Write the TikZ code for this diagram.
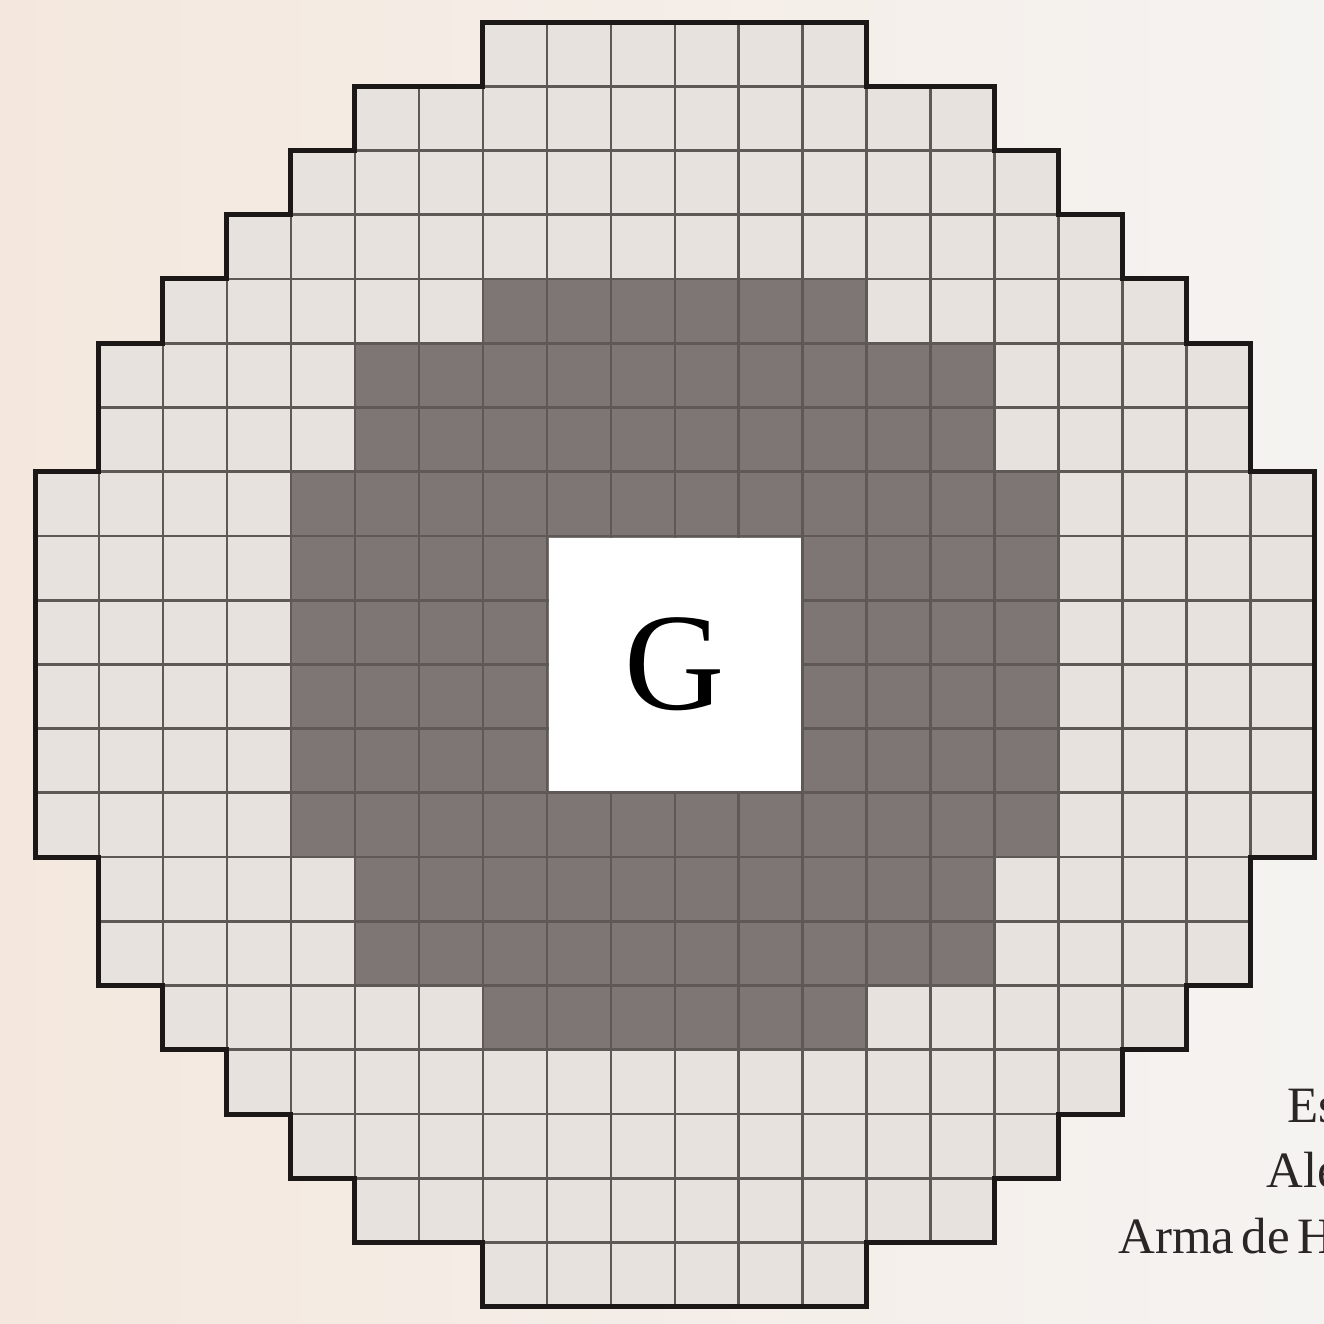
\documentclass[tikz,border=0pt]{standalone}
\usepackage{fontspec}
\setmainfont{Liberation Serif}
\definecolor{paperL}{HTML}{F4E8DE}
\definecolor{paperR}{HTML}{F5F3F1}
\definecolor{lightcell}{HTML}{E8E2DE}
\definecolor{darkcell}{HTML}{7E7674}
\definecolor{gridcol}{HTML}{5E5856}
\definecolor{outlinecol}{HTML}{1C1818}
\definecolor{textcol}{HTML}{2A2626}
\tikzset{
  gridline/.style={draw=gridcol, line width=0.055cm},
  outlinestyle/.style={draw=outlinecol, line width=0.1cm, line join=miter},
  caption/.style={anchor=base west, inner sep=0pt, text=textcol,
    font=\fontsize{29}{29}\selectfont},
  bigletter/.style={inner sep=0pt, text=black, font=\fontsize{79}{79}\selectfont}
}
\begin{document}
\begin{tikzpicture}[x=0.02cm, y=-0.02cm]
\useasboundingbox (0,0) rectangle (1324,1323);
\clip (0,0) rectangle (1324,1323);
\shade[left color=paperL, right color=paperR] (0,0) rectangle (1324,1323);
\begin{scope}[shift={(35,22)}, x=1.28cm, y=-1.285cm]
  \def\outlinepath{(7,0) -- (13,0) -- (13,1) -- (15,1) -- (15,2) -- (16,2) -- (16,3) -- (17,3) -- (17,4) -- (18,4) -- (18,5) -- (19,5) -- (19,7) -- (20,7) -- (20,13) -- (19,13) -- (19,15) -- (18,15) -- (18,16) -- (17,16) -- (17,17) -- (16,17) -- (16,18) -- (15,18) -- (15,19) -- (13,19) -- (13,20) -- (7,20) -- (7,19) -- (5,19) -- (5,18) -- (4,18) -- (4,17) -- (3,17) -- (3,16) -- (2,16) -- (2,15) -- (1,15) -- (1,13) -- (0,13) -- (0,7) -- (1,7) -- (1,5) -- (2,5) -- (2,4) -- (3,4) -- (3,3) -- (4,3) -- (4,2) -- (5,2) -- (5,1) -- (7,1) -- cycle}
  \fill[lightcell] \outlinepath;
  \fill[darkcell] (7,4) -- (13,4) -- (13,5) -- (15,5) -- (15,7) -- (16,7) -- (16,13) -- (15,13) -- (15,15) -- (13,15) -- (13,16) -- (7,16) -- (7,15) -- (5,15) -- (5,13) -- (4,13) -- (4,7) -- (5,7) -- (5,5) -- (7,5) -- cycle;
  \begin{scope}
    \clip \outlinepath;
    \foreach \i in {0,...,20} {
      \draw[gridline] (\i,0) -- (\i,20);
      \draw[gridline] (0,\i) -- (20,\i);
    }
  \end{scope}
  \fill[white] (8.025,8.025) rectangle (11.975,11.975);
  \draw[outlinestyle] \outlinepath;
  \node[bigletter] (g) at (10,10) {G};
\end{scope}
\node[caption] (t1) at (1287,1122) {Es};
\node[caption] (t2) at (1266,1187) {Ale};
\node[caption] (t3) at (1118,1253) {Arma\hspace{0.15em}de\hspace{0.15em}H};
\end{tikzpicture}
\end{document}
